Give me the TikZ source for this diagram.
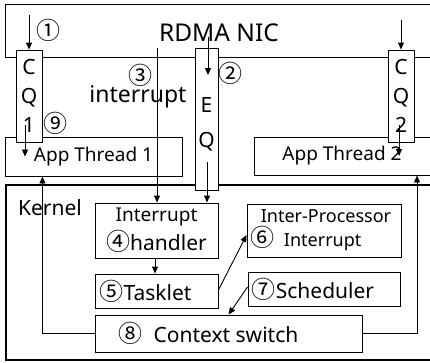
\documentclass[tikz,border=0pt]{standalone}
\usepackage{fontspec}
\setmainfont{Noto Sans}
\newfontfamily\numfont{Noto Sans CJK SC}
\newcommand{\cnum}[1]{{\numfont\fontsize{24}{29}\selectfont #1}}
\usetikzlibrary{arrows.meta,positioning}

\begin{document}
\begin{tikzpicture}[x=1pt,y=-1pt,>={Triangle[length=7pt,width=6pt]},
    font=\fontsize{21}{29}\selectfont]
        \tikzstyle{box}=[rectangle,draw,line width=0.9pt,fill=white,inner sep=0pt,align=center]
        \tikzstyle{queue}=[box,minimum width=26pt,minimum height=92pt]
        \tikzstyle{thread}=[box,font=\fontsize{19}{29}\selectfont]
        \tikzstyle{small}=[font=\fontsize{18}{24}\selectfont]
        \clip (0,0) rectangle (430,362);
        \fill[white] (0,0) rectangle (430,362);

        % NIC side
        \begin{scope}
        \node[box,minimum width=440pt,minimum height=53pt](nic) at (225,30.5){};
        \node[font=\fontsize{24.5}{29}\selectfont](nictext) at (219,33){RDMA NIC};
        \node[thread,minimum width=177pt,minimum height=39pt](app1) at (93.5,156.5){App Thread 1};
        \node[thread,minimum width=186pt,minimum height=38pt](app2) at (347,156){App Thread 2\hspace*{10pt}};
        \node[queue](cq1) at (29,96){C\\Q\\1};
        \node[queue](cq2) at (401,96){C\\Q\\2};
        \node(n1) at (48,30){\cnum{①}};
        \node(n2) at (230,73){\cnum{②}};
        \node(n3) at (140,75){\cnum{③}};
        \node[font=\fontsize{23}{29}\selectfont](irqtext) at (138,97){interrupt};
        \node(n9) at (55,123){\cnum{⑨}};
        \coordinate (cqin1) at (29,15);
        \coordinate (cqin2) at (401,20);
        \coordinate (cqout1) at (25,125);
        \coordinate (cqout2) at (399,125);
        \draw[->,line width=0.9pt] (cqin1) -- (cq1.north);
        \draw[->,line width=0.9pt] (cqin2) -- (cq2.north);
        \draw[->,line width=0.9pt] (cqout1) -- (cqout1 |- app1.center);
        \draw[->,line width=0.9pt] (cqout2) -- (cqout2 |- app2.center);
        \end{scope}

        % kernel side
        \begin{scope}
        \draw[line width=1.6pt] (6,185) rectangle (440,360);
        \node(kernel) at (50,208){Kernel};
        \node[box,minimum width=123pt,minimum height=55pt](handler) at (156.5,230.5)
            {\fontsize{19}{25}\selectfont Interrupt\\\cnum{④}handler};
        \node[box,minimum width=123pt,minimum height=34pt](tasklet) at (156.5,291)
            {\cnum{⑤}Tasklet\hspace*{22pt}};
        \node[box,small,minimum width=154pt,minimum height=53pt](ipi) at (324,230.5)
            {\hspace*{4pt}Inter-Processor\\\cnum{⑥}~~Interrupt\hspace*{36pt}};
        \node[box,minimum width=152pt,minimum height=34pt](sched) at (324,289)
            {\cnum{⑦}Scheduler\hspace*{22pt}};
        \node[box,minimum width=267pt,minimum height=37pt](ctx) at (228.5,333.5)
            {\cnum{⑧}~~Context switch\hspace*{40pt}};
        \node[box,minimum width=23pt,minimum height=142pt](eq) at (206.5,119){\\[22pt]E\\[6pt]Q\\};
        \coordinate (irq) at (157,48);
        \coordinate (eqin) at (208,37);
        \coordinate (eqtip) at (208,75);
        \coordinate (eqout) at (207,162);
        \draw[->,line width=0.9pt] (irq) -- (irq |- handler.north);
        \draw[->,line width=0.9pt] (eqin) -- (eqtip);
        \draw[->,line width=0.9pt] (eqout) -- (eqout |- handler.north);
        \draw[->,line width=0.9pt] ([xshift=-1.5pt]handler.south) -- ([xshift=-1.5pt]tasklet.north);
        \draw[->,line width=0.9pt] ([yshift=1pt]tasklet.east) -- ([yshift=-4.5pt]ipi.west);
        \draw[->,line width=0.9pt] ([yshift=2pt]sched.west) -- (ctx.north);
        \draw[->,line width=0.9pt] (ctx.west) -| (cq1.east |- app1.south);
        \draw[->,line width=0.9pt] (ctx.east) -| ([xshift=70pt]app2.south);
        \end{scope}
\end{tikzpicture}
\end{document}
